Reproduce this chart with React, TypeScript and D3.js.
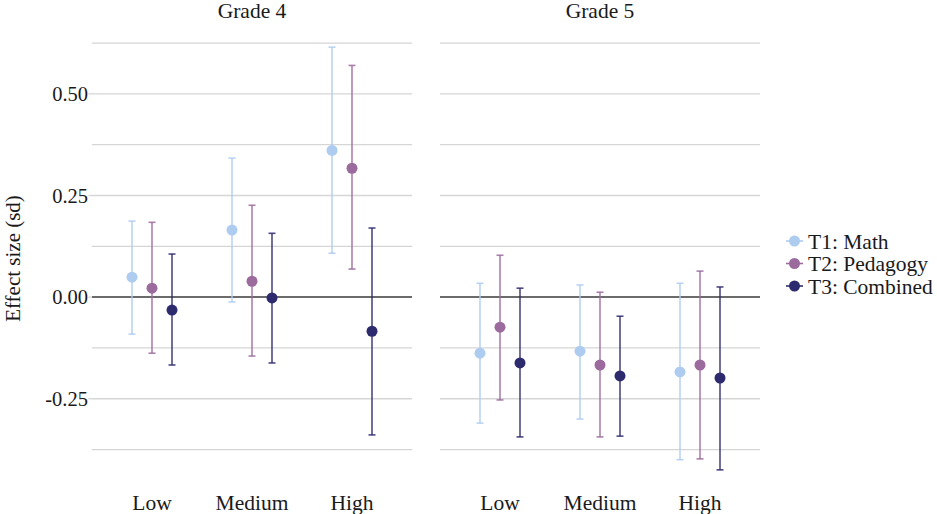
import React, { useEffect, useRef } from "react";
import * as d3 from "d3";

// Facets, categories and treatment arms
const grades = ["Grade 4", "Grade 5"];
const levels = ["Low", "Medium", "High"];
const treatments = ["T1: Math", "T2: Pedagogy", "T3: Combined"];
const colors = ["#aecbf0", "#9b6b9e", "#2e2a6e"];

// Point estimates per grade, [treatment][level]
const est4 = [
  [0.049, 0.165, 0.361],
  [0.022, 0.039, 0.317],
  [-0.032, -0.002, -0.084],
];
const est5 = [
  [-0.138, -0.133, -0.184],
  [-0.074, -0.167, -0.167],
  [-0.162, -0.194, -0.199],
];
// Lower and upper CI bounds
const lo4 = [
  [-0.091, -0.012, 0.108],
  [-0.138, -0.145, 0.069],
  [-0.167, -0.162, -0.339],
];
const hi4 = [
  [0.187, 0.342, 0.615],
  [0.184, 0.226, 0.57],
  [0.106, 0.157, 0.17],
];
const lo5 = [
  [-0.31, -0.3, -0.4],
  [-0.253, -0.344, -0.398],
  [-0.344, -0.342, -0.425],
];
const hi5 = [
  [0.034, 0.03, 0.034],
  [0.103, 0.012, 0.064],
  [0.022, -0.047, 0.025],
];

const yTicks = [-0.25, 0, 0.25, 0.5];
const yGrid = [-0.375, -0.25, -0.125, 0.125, 0.25, 0.375, 0.5, 0.625];

const FONT = "Liberation Serif, DejaVu Serif, serif";

const App = () => {
  const ref = useRef(null);

  useEffect(() => {
    const width = 937;
    const height = 514;
    const panels = [
      { x0: 92, x1: 412, est: est4, lo: lo4, hi: hi4 },
      { x0: 440, x1: 760, est: est5, lo: lo5, hi: hi5 },
    ];
    const top = 26;
    const bottom = 491;

    const svg = d3
      .select(ref.current)
      .attr("width", width)
      .attr("height", height)
      .attr("viewBox", [0, 0, width, height])
      .attr("font-family", FONT)
      .style("position", "absolute")
      .style("left", 0)
      .style("top", 0);

    svg.selectAll("*").remove();
    svg.append("rect").attr("width", width).attr("height", height).attr("fill", "#fff");

    const allVals = [...lo4, ...lo5, ...hi4, ...hi5].flat();
    const [mn, mx] = d3.extent(allVals);
    const pad = (mx - mn) * 0.05;
    const y = d3.scaleLinear().domain([mn - pad, mx + pad]).range([bottom, top]);

    const dodge = [-0.2, 0, 0.2];
    const label = (sel, size = 20.5) =>
      sel.attr("font-family", FONT).attr("font-size", size).attr("fill", "#1a1a1a");

    panels.forEach((p, gi) => {
      const x = d3.scaleLinear().domain([0.4, 3.6]).range([p.x0, p.x1]);
      const g = svg.append("g");

      g.selectAll(".grid")
        .data(yGrid)
        .join("line")
        .attr("x1", p.x0)
        .attr("x2", p.x1)
        .attr("y1", (d) => y(d))
        .attr("y2", (d) => y(d))
        .attr("stroke", "#d6d6d6")
        .attr("stroke-width", 1.3);

      g.append("line")
        .attr("x1", p.x0)
        .attr("x2", p.x1)
        .attr("y1", y(0))
        .attr("y2", y(0))
        .attr("stroke", "#3a3a3a")
        .attr("stroke-width", 1.5);

      g.append("text")
        .attr("x", (p.x0 + p.x1) / 2)
        .attr("y", 18)
        .attr("text-anchor", "middle")
        .call(label, 21.5)
        .text(grades[gi]);

      g.selectAll(".xlab")
        .data(levels)
        .join("text")
        .attr("x", (d, i) => x(i + 1))
        .attr("y", 510)
        .attr("text-anchor", "middle")
        .call(label, 21.5)
        .text((d) => d);

      treatments.forEach((t, ti) => {
        const rows = levels.map((l, li) => ({
          x: x(li + 1 + dodge[ti]),
          est: p.est[ti][li],
          lo: p.lo[ti][li],
          hi: p.hi[ti][li],
        }));
        const bars = g.append("g").attr("stroke", colors[ti]).attr("stroke-opacity", 0.85).attr("stroke-width", 1.6);
        rows.forEach((r) => {
          bars.append("line").attr("x1", r.x).attr("x2", r.x).attr("y1", y(r.lo)).attr("y2", y(r.hi));
          bars.append("line").attr("x1", r.x - 3.5).attr("x2", r.x + 3.5).attr("y1", y(r.lo)).attr("y2", y(r.lo));
          bars.append("line").attr("x1", r.x - 3.5).attr("x2", r.x + 3.5).attr("y1", y(r.hi)).attr("y2", y(r.hi));
        });
        g.selectAll(".pt" + ti)
          .data(rows)
          .join("circle")
          .attr("cx", (d) => d.x)
          .attr("cy", (d) => y(d.est))
          .attr("r", 5.5)
          .attr("fill", colors[ti]);
      });
    });

    // y axis labels and ticks
    const ya = svg.append("g");
    ya.selectAll("text")
      .data(yTicks)
      .join("text")
      .attr("x", 88)
      .attr("y", (d) => y(d))
      .attr("dy", "0.35em")
      .attr("text-anchor", "end")
      .call(label)
      .text((d) => d3.format(".2f")(d).replace("\u2212", "-"));
    ya.selectAll("line")
      .data(yTicks)
      .join("line")
      .attr("x1", 88.5)
      .attr("x2", 92)
      .attr("y1", (d) => y(d))
      .attr("y2", (d) => y(d))
      .attr("stroke", "#d6d6d6")
      .attr("stroke-width", 1.3);

    svg.append("text")
      .attr("transform", `translate(20,${(top + bottom) / 2}) rotate(-90)`)
      .attr("text-anchor", "middle")
      .call(label, 21)
      .text("Effect size (sd)");

    // legend
    const lg = svg.append("g").attr("transform", "translate(786,241)");
    treatments.forEach((t, i) => {
      const row = lg.append("g").attr("transform", `translate(0,${i * 22.5})`);
      row.append("line").attr("x1", 0).attr("x2", 17).attr("stroke", colors[i]).attr("stroke-width", 1.6);
      row.append("circle").attr("cx", 8.5).attr("r", 5.5).attr("fill", colors[i]);
      row.append("text")
        .attr("x", 22)
        .attr("dy", "0.35em")
        .call(label, 21.5)
        .text(t);
    });
  }, []);

  return (
    <div id="app">
      <svg ref={ref}></svg>
    </div>
  );
};

export default App;
